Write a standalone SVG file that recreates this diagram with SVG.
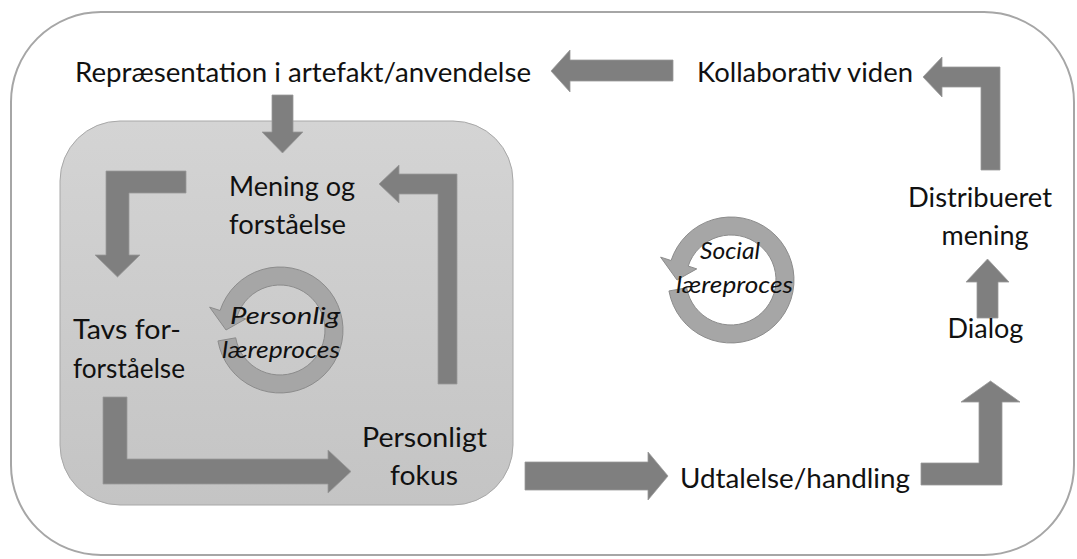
<svg xmlns="http://www.w3.org/2000/svg" xmlns:xlink="http://www.w3.org/1999/xlink" width="1077" height="559" viewBox="0 0 1077 559">
  <style>
    .lbl { font-family: Lato, "Noto Sans", "Liberation Sans", sans-serif; font-size: 27px; fill: #111; }
    .cyc { font-family: Lato, "Noto Sans", "Liberation Sans", sans-serif; font-size: 24px; font-style: italic; fill: #111; }
    .arrow { fill: #7f7f7f; stroke: #9a9a9a; stroke-width: 0.8; }
    .ring { fill: #a6a6a6; stroke: #8c8c8c; stroke-width: 1; }
  </style>
  <defs>
    <linearGradient id="innerFill" x1="0" y1="0" x2="0" y2="1">
      <stop offset="0" stop-color="#d4d4d4"/>
      <stop offset="1" stop-color="#c4c4c4"/>
    </linearGradient>
    <!-- circular arrow centred on the origin, running anticlockwise with the head at the left -->
    <path id="cycleArrow" class="ring" d="M -62.04,10.94 A 63 63 0 1 0 -59.92,-19.47 L -70.38,-22.87 L -54,0 L -34.24,-11.12 L -42.80,-13.91 A 45 45 0 1 1 -44.32,7.81 Z"/>
  </defs>

  <rect width="1077" height="559" fill="#ffffff"/>

  <!-- outer frame -->
  <g id="social-frame">
    <rect x="11" y="12" width="1063" height="543" rx="90" ry="90" fill="#ffffff" stroke="#a6a6a6" stroke-width="2"/>
  </g>

  <!-- personal learning area -->
  <g id="personal-frame">
    <rect x="60" y="121" width="453" height="384" rx="60" ry="60" fill="url(#innerFill)" stroke="#a8a8a8" stroke-width="1"/>
  </g>

  <g id="connectors">
    <!-- Kollaborativ viden -> Repræsentation -->
    <polygon class="arrow" points="673,60 570,60 570,50 551,71 570,92 570,81 673,81"/>
    <!-- Repræsentation -> Mening og forståelse -->
    <polygon class="arrow" points="272,95 293,95 293,132 303,132 282.5,153 262,132 272,132"/>
    <!-- into Tavs for-forståelse -->
    <polygon class="arrow" points="186,171 106,171 106,255 95,255 117.5,277 140,255 129,255 129,193 186,193"/>
    <!-- up to Mening og forståelse -->
    <polygon class="arrow" points="438,384 457,384 457,174 399,174 399,165 379,184 399,203 399,194 438,194"/>
    <!-- Tavs for-forståelse -> Personligt fokus -->
    <polygon class="arrow" points="103,397 127,397 127,459 328,459 328,450 351,471.5 328,493 328,484 103,484"/>
    <!-- Personligt fokus -> Udtalelse/handling -->
    <polygon class="arrow" points="525,462 648,462 648,452 668,476 648,500 648,490 525,490"/>
    <!-- Udtalelse/handling -> Dialog -->
    <polygon class="arrow" points="921,463 979,463 979,402 961,402 990.5,381 1020,402 1002,402 1002,485 921,485"/>
    <!-- Dialog -> Distribueret mening -->
    <polygon class="arrow" points="977,318 998,318 998,282 1009,282 987.5,259 966,282 977,282"/>
    <!-- Distribueret mening -> Kollaborativ viden -->
    <polygon class="arrow" points="981,170 1000,170 1000,67 942,67 942,57 923,77 942,97 942,87 981,87"/>
  </g>

  <g id="personal-cycle">
    <use xlink:href="#cycleArrow" transform="translate(280,330)"/>
    <text class="cyc" x="230" y="324" textLength="110" lengthAdjust="spacingAndGlyphs">Personlig</text>
    <text class="cyc" x="222" y="358" textLength="118" lengthAdjust="spacingAndGlyphs">læreproces</text>
  </g>

  <g id="social-cycle">
    <use xlink:href="#cycleArrow" transform="translate(731,280)"/>
    <text class="cyc" x="700" y="259" textLength="60" lengthAdjust="spacingAndGlyphs">Social</text>
    <text class="cyc" x="676" y="293" textLength="117" lengthAdjust="spacingAndGlyphs">læreproces</text>
  </g>

  <g id="representation">
    <text class="lbl" x="75" y="82" textLength="456" lengthAdjust="spacingAndGlyphs">Repræsentation i artefakt/anvendelse</text>
  </g>
  <g id="kollaborativ-viden">
    <text class="lbl" x="697" y="82" textLength="216" lengthAdjust="spacingAndGlyphs">Kollaborativ viden</text>
  </g>
  <g id="mening-forstaaelse">
    <text class="lbl" x="229" y="196" textLength="126" lengthAdjust="spacingAndGlyphs">Mening og</text>
    <text class="lbl" x="229" y="234" textLength="117" lengthAdjust="spacingAndGlyphs">forståelse</text>
  </g>
  <g id="distribueret-mening">
    <text class="lbl" x="908" y="207" textLength="144" lengthAdjust="spacingAndGlyphs">Distribueret</text>
    <text class="lbl" x="985" y="245" text-anchor="middle">mening</text>
  </g>
  <g id="tavs-forforstaaelse">
    <text class="lbl" x="73" y="339" textLength="108" lengthAdjust="spacingAndGlyphs">Tavs for-</text>
    <text class="lbl" x="73" y="378" textLength="112" lengthAdjust="spacingAndGlyphs">forståelse</text>
  </g>
  <g id="dialog">
    <text class="lbl" x="985.5" y="338" text-anchor="middle">Dialog</text>
  </g>
  <g id="personligt-fokus">
    <text class="lbl" x="362" y="447" textLength="125" lengthAdjust="spacingAndGlyphs">Personligt</text>
    <text class="lbl" x="390" y="485" textLength="68" lengthAdjust="spacingAndGlyphs">fokus</text>
  </g>
  <g id="udtalelse-handling">
    <text class="lbl" x="680" y="488" textLength="230" lengthAdjust="spacingAndGlyphs">Udtalelse/handling</text>
  </g>
</svg>
